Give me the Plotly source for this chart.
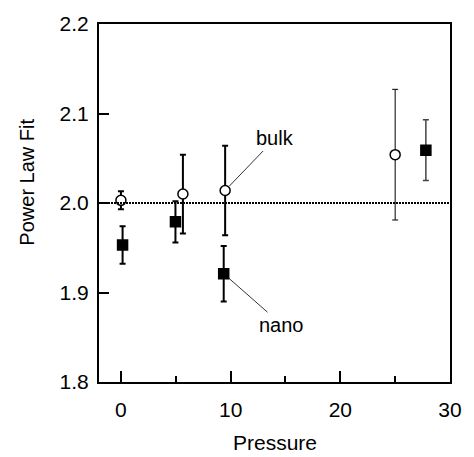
import plotly.graph_objects as go

# ---- data ----
bulk_pressure = [0.0, 5.65, 9.5, 25.0]
bulk_fit = [2.003, 2.010, 2.014, 2.054]
bulk_err = [0.010, 0.044, 0.050, 0.073]

nano_pressure = [0.15, 4.97, 9.37, 27.8]
nano_fit = [1.953, 1.979, 1.921, 2.059]
nano_err = [0.021, 0.023, 0.031, 0.034]

reference_level = 2.0
x_ticks = [0, 10, 20, 30]
y_ticks = [1.8, 1.9, 2.0, 2.1, 2.2]

FONT = "Liberation Sans, Arial, Helvetica, sans-serif"

fig = go.Figure()

# reference dotted line at 2.0
fig.add_hline(y=reference_level, line=dict(color="black", width=2, dash="2px,1px"), layer="above")

def add_series(x, y, e, symbol, fill, thick, ecolor, name):
    fig.add_trace(go.Scatter(
        x=x, y=y, mode="markers", name=name, showlegend=False,
        marker=dict(symbol=symbol, size=10, color=fill,
                    line=dict(color="black", width=1.5)),
        error_y=dict(type="data", array=e, visible=True, thickness=thick,
                     width=3, color=ecolor),
    ))

# bulk (open circles)
add_series(bulk_pressure[:3], bulk_fit[:3], bulk_err[:3], "circle", "white", 2, "black", "bulk")
add_series(bulk_pressure[3:], bulk_fit[3:], bulk_err[3:], "circle", "white", 1, "black", "bulk")
# nano (filled squares)
add_series(nano_pressure[:3], nano_fit[:3], nano_err[:3], "square", "black", 2, "black", "nano")
add_series(nano_pressure[3:], nano_fit[3:], nano_err[3:], "square", "black", 1.5, "#444444", "nano")

# labels with leader lines
fig.add_annotation(x=bulk_pressure[2], y=bulk_fit[2], text="bulk", showarrow=True,
                   arrowhead=0, arrowwidth=0.8, arrowcolor="black", standoff=6,
                   ax=50, ay=-52, font=dict(family=FONT, size=20, color="black"))
fig.add_annotation(x=nano_pressure[2], y=nano_fit[2], text="nano", showarrow=True,
                   arrowhead=0, arrowwidth=0.8, arrowcolor="black", standoff=6,
                   ax=58, ay=51, font=dict(family=FONT, size=20, color="black"))

# axis titles
fig.add_annotation(xref="paper", yref="paper", x=0.5, y=-0.168, text="Pressure",
                   showarrow=False, xanchor="center", yanchor="middle",
                   font=dict(family=FONT, size=21, color="black"))
fig.add_annotation(xref="paper", yref="paper", x=-0.205, y=0.557, text="Power Law Fit",
                   showarrow=False, textangle=-90, xanchor="center", yanchor="middle",
                   font=dict(family=FONT, size=20, color="black"))

fig.update_xaxes(range=[-2, 30], tickvals=x_ticks, ticks="inside", ticklen=11,
                 tickwidth=2, tickcolor="black", showline=True, linewidth=2,
                 linecolor="black", mirror=True, showgrid=False, zeroline=False,
                 tickfont=dict(family=FONT, size=21, color="black"),
                 ticklabelstandoff=8,
                 minor=dict(tickvals=[5, 15, 25], ticks="inside", ticklen=6,
                            tickwidth=2, tickcolor="black", showgrid=False))
fig.update_yaxes(range=[1.8, 2.2], tickvals=y_ticks, tickformat=".1f", ticks="inside",
                 ticklen=10, tickwidth=2, tickcolor="black", showline=True, linewidth=2,
                 linecolor="black", mirror=True, showgrid=False, zeroline=False,
                 tickfont=dict(family=FONT, size=21, color="black"),
                 ticklabelstandoff=4)

fig.update_layout(width=474, height=457, margin=dict(l=99, r=16, t=16, b=75),
                  plot_bgcolor="white", paper_bgcolor="white",
                  font=dict(family=FONT, color="black"))

fig.write_html("out.html", config={"displayModeBar": False},
               post_script="document.body.style.margin='0';document.body.style.overflow='hidden';")
